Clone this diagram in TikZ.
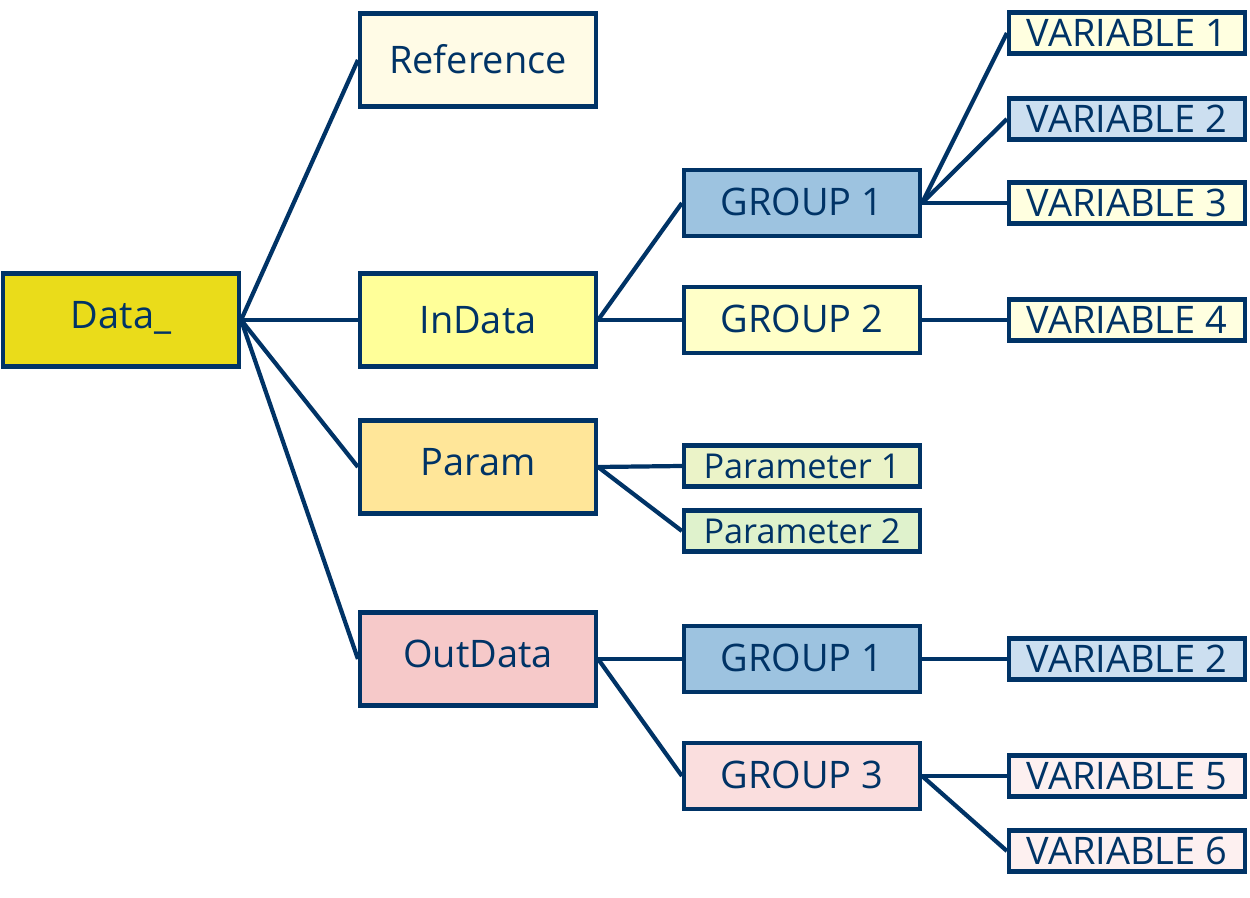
\documentclass[tikz,border=0pt]{standalone}
\usepackage{fontspec}
\setmainfont{Open Sans}
\usepackage{tikz}
\usetikzlibrary{positioning}
\definecolor{LineBlue}{RGB}{0,51,102}
\definecolor{RootYellow}{RGB}{234,220,26}
\definecolor{RefCream}{RGB}{255,251,230}
\definecolor{InYellow}{RGB}{255,255,153}
\definecolor{ParamOrange}{RGB}{255,230,153}
\definecolor{OutPink}{RGB}{246,201,201}
\definecolor{GroupBlue}{RGB}{157,195,224}
\definecolor{GroupYellow}{RGB}{255,255,200}
\definecolor{GroupPink}{RGB}{250,222,222}
\definecolor{VarYellow}{RGB}{255,255,224}
\definecolor{VarBlue}{RGB}{204,223,240}
\definecolor{VarPink}{RGB}{253,240,240}
\definecolor{ParGreenA}{RGB}{235,243,200}
\definecolor{ParGreenB}{RGB}{223,242,204}
\tikzstyle{BigBox} = [rectangle, draw=LineBlue, line width=2.4pt, text=LineBlue,
    minimum width=4.72cm, minimum height=1.86cm, font=\fontsize{21.6}{26}\selectfont,
    text height=15.4pt, text depth=0pt]
\tikzstyle{RaisedText} = [text depth=5.7pt]
\tikzstyle{GroupBox} = [BigBox, minimum height=1.32cm, text depth=1.5pt]
\tikzstyle{VarBox} = [BigBox, minimum height=0.82cm]
\tikzstyle{ParamBox} = [VarBox, font=\fontsize{19.5}{23}\selectfont, text height=13.9pt]
\tikzstyle{link} = [draw=LineBlue, line width=2.4pt]
\begin{document}
\begin{tikzpicture}[x=0.02cm, y=-0.02cm]
        \useasboundingbox (0,0) rectangle (1250,898);
        \node[BigBox, RaisedText, fill=RootYellow] (DataRoot) at (121,320) {Data\_}; %root
        \node[BigBox, fill=RefCream] (Reference) at (478,60) {Reference};
        \node[BigBox, fill=InYellow] (InData) at (478,320) {InData};
        \node[BigBox, RaisedText, fill=ParamOrange] (Param) at (478,467) {Param};
        \node[BigBox, RaisedText, fill=OutPink] (OutData) at (478,659) {OutData};
        \node[GroupBox, fill=GroupBlue] (InGroupOne) at (802,203) {GROUP 1}; %in groups
        \node[GroupBox, fill=GroupYellow] (InGroupTwo) at (802,320) {GROUP 2};
        \node[ParamBox, fill=ParGreenA] (ParamOne) at (802,466) {Parameter 1}; %parameters
        \node[ParamBox, fill=ParGreenB] (ParamTwo) at (802,531) {Parameter 2};
        \node[GroupBox, fill=GroupBlue] (OutGroupOne) at (802,659) {GROUP 1}; %out groups
        \node[GroupBox, fill=GroupPink] (OutGroupThree) at (802,776) {GROUP 3};
        \node[VarBox, fill=VarYellow] (VarOne) at (1127,33) {VARIABLE 1}; %variables
        \node[VarBox, fill=VarBlue] (VarTwo) at (1127,119) {VARIABLE 2};
        \node[VarBox, fill=VarYellow] (VarThree) at (1127,203) {VARIABLE 3};
        \node[VarBox, fill=VarYellow] (VarFour) at (1127,320) {VARIABLE 4};
        \node[VarBox, fill=VarBlue] (OutVarTwo) at (1127,659) {VARIABLE 2};
        \node[VarBox, fill=VarPink] (VarFive) at (1127,776) {VARIABLE 5};
        \node[VarBox, fill=VarPink] (VarSix) at (1127,851) {VARIABLE 6};
        \draw[link] (DataRoot.east) -- (Reference.west);
        \draw[link] (DataRoot.east) -- (InData.west);
        \draw[link] (DataRoot.east) -- (Param.west);
        \draw[link] (DataRoot.east) -- (OutData.west);
        \draw[link] (InData.east) -- (InGroupOne.west);
        \draw[link] (InData.east) -- (InGroupTwo.west);
        \draw[link] (Param.east) -- (ParamOne.west);
        \draw[link] (Param.east) -- (ParamTwo.west);
        \draw[link] (OutData.east) -- (OutGroupOne.west);
        \draw[link] (OutData.east) -- (OutGroupThree.west);
        \draw[link] (InGroupOne.east) -- (VarOne.west);
        \draw[link] (InGroupOne.east) -- (VarTwo.west);
        \draw[link] (InGroupOne.east) -- (VarThree.west);
        \draw[link] (InGroupTwo.east) -- (VarFour.west);
        \draw[link] (OutGroupOne.east) -- (OutVarTwo.west);
        \draw[link] (OutGroupThree.east) -- (VarFive.west);
        \draw[link] (OutGroupThree.east) -- (VarSix.west);
    \end{tikzpicture}
\end{document}
